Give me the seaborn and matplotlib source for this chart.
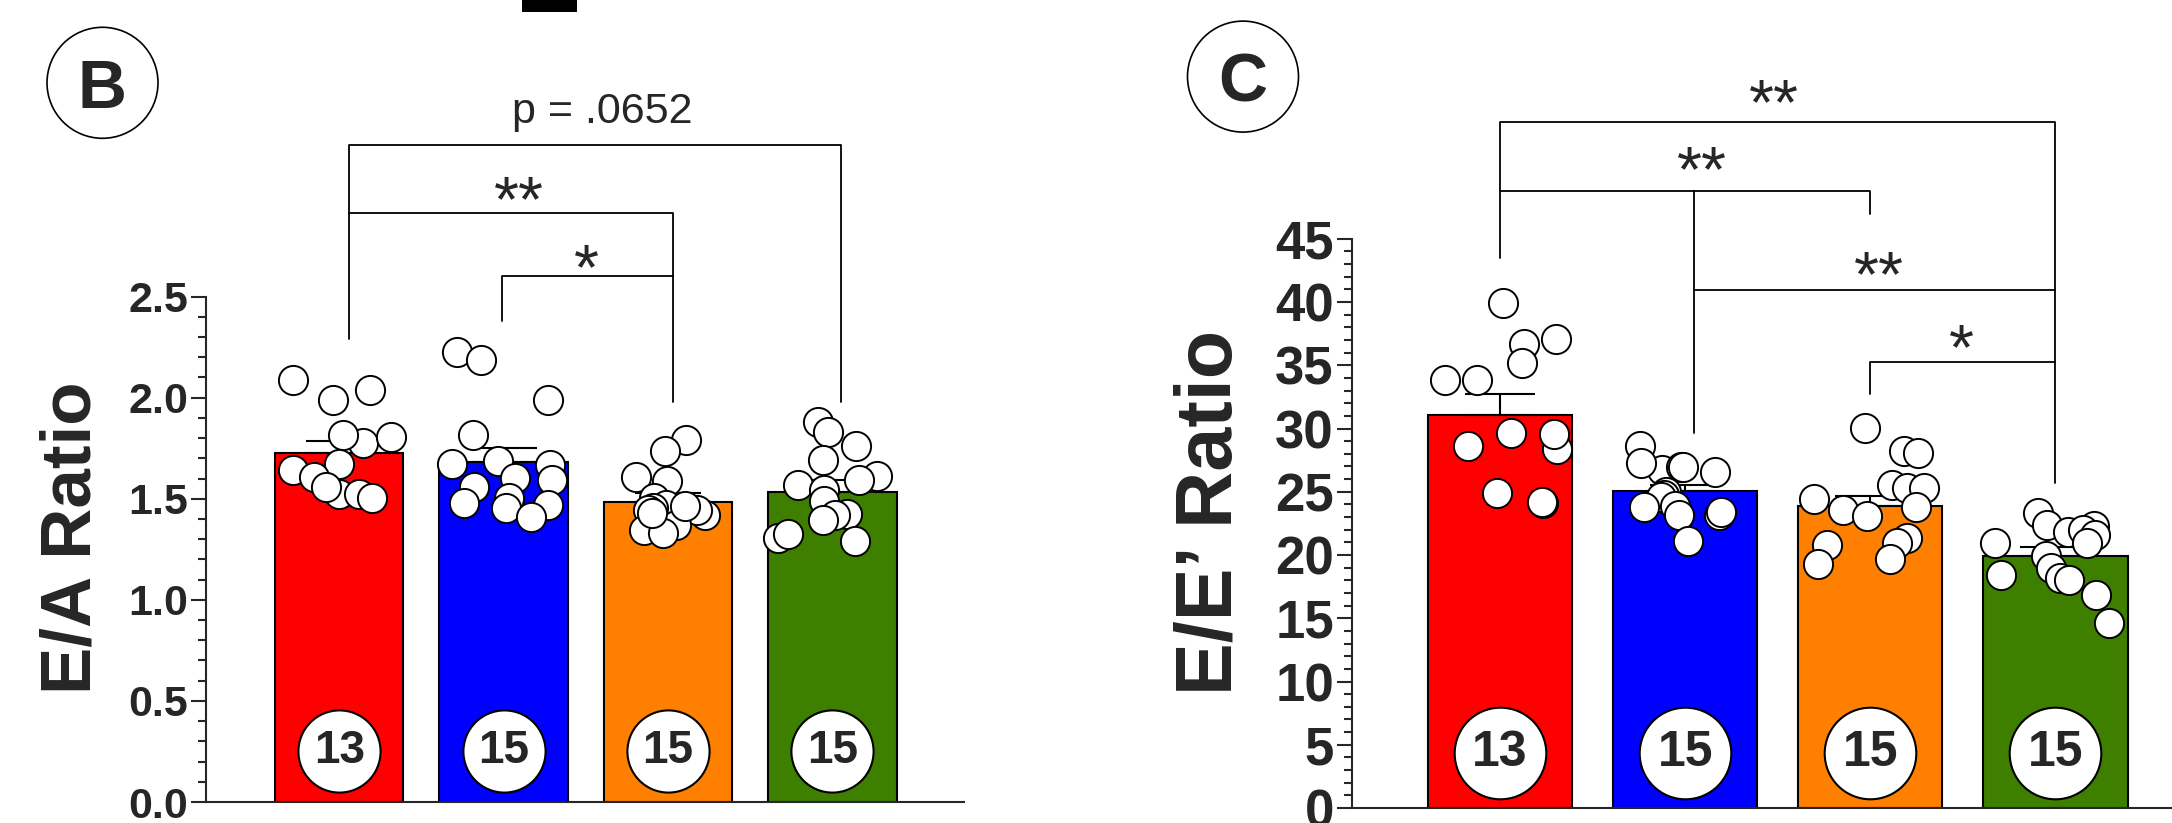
import numpy as np
import pandas as pd
import matplotlib
matplotlib.use("Agg")
import matplotlib.pyplot as plt
import seaborn as sns
from matplotlib import font_manager
from matplotlib.patches import Ellipse, Rectangle

# ---------------- data ----------------
groups = ["G1", "G2", "G3", "G4"]
bar_colors = ["#ff0000", "#0000ff", "#ff8000", "#3f7f00"]
n_labels = ["13", "15", "15", "15"]

# panel B : E/A ratio
ea_red = [2.086, 2.04, 1.99, 1.776, 1.805, 1.813, 1.67, 1.64, 1.607, 1.523, 1.523, 1.503, 1.558]
ea_blue = [2.224, 2.185, 1.99, 1.817, 1.688, 1.665, 1.673, 1.602, 1.594, 1.558, 1.503, 1.47, 1.479, 1.454, 1.409]
ea_orange = [1.792, 1.734, 1.607, 1.586, 1.503, 1.47, 1.454, 1.421, 1.446, 1.446, 1.371, 1.347, 1.333, 1.43, 1.462]
ea_green = [1.878, 1.828, 1.759, 1.693, 1.614, 1.569, 1.594, 1.545, 1.487, 1.424, 1.421, 1.396, 1.308, 1.325, 1.289]
ea_mean = [1.725, 1.683, 1.485, 1.535]
ea_sem = [0.062, 0.070, 0.043, 0.059]

# panel C : E/E' ratio
ee_red = [39.96, 36.67, 37.09, 35.17, 33.85, 33.85, 29.68, 28.58, 28.37, 29.55, 24.1, 24.94, 24.23]
ee_blue = [28.63, 26.73, 26.94, 26.6, 26.94, 27.31, 24.96, 24.75, 24.62, 23.78, 23.91, 23.17, 23.17, 23.43, 21.11]
ee_orange = [30.03, 28.23, 28.1, 25.54, 25.28, 25.28, 24.41, 23.78, 23.57, 23.12, 21.33, 20.93, 20.8, 19.67, 19.27]
ee_green = [23.3, 22.3, 22.38, 21.85, 21.98, 21.59, 20.93, 20.93, 19.93, 18.96, 18.43, 18.16, 18.03, 16.84, 14.65]
ee_mean = [31.1, 25.1, 23.85, 19.9]
ee_sem = [1.66, 0.45, 0.85, 0.75]

sns.set_style("ticks")
names = {f.name for f in font_manager.fontManager.ttflist}
main_font = "Liberation Sans" if "Liberation Sans" in names else "DejaVu Sans"
narrow_font = "Liberation Sans Narrow" if "Liberation Sans Narrow" in names else main_font
plt.rcParams["font.family"] = [main_font, "DejaVu Sans"]

np.random.seed(7)  # jitter of the dots only

fig = plt.figure(figsize=(21.72, 8.23), dpi=100)
W, H = 2172, 823

ax_b = fig.add_axes([206 / W, 21 / H, 758 / W, 505.4 / H])
ax_c = fig.add_axes([1352 / W, 15 / H, 820 / W, 569.2 / H])


def draw_panel(ax, values, means, sems, top, step, minor, fmt, tick_size,
               n_y, n_size, n_font, capsize, xlim):
    long = pd.DataFrame({
        "group": np.repeat(groups, [len(v) for v in values]),
        "value": np.concatenate(values),
    })
    bars = pd.DataFrame({"group": groups, "mean": means})

    sns.barplot(data=bars, x="group", y="mean", hue="group", order=groups,
                palette=bar_colors, saturation=1, width=0.78, edgecolor="black",
                linewidth=1.5, errorbar=None, legend=False, ax=ax, zorder=1)
    ax.errorbar(range(4), means, yerr=[np.zeros(4), sems], fmt="none",
                ecolor="black", elinewidth=1.5, capsize=capsize, capthick=1.5,
                zorder=2)
    sns.stripplot(data=long, x="group", y="value", order=groups, color="white",
                  edgecolor="black", linewidth=1.4, size=21, jitter=0.33,
                  ax=ax, zorder=3)

    ax.scatter(range(4), [n_y] * 4, s=n_size, facecolor="white",
               edgecolor="black", linewidth=1.5, zorder=5, clip_on=False)
    for i, lab in enumerate(n_labels):
        ax.text(i, n_y, lab, ha="center", va="center", fontsize=n_font,
                fontweight="bold", zorder=6)

    ax.set_xlim(*xlim)
    ax.set_ylim(0, top)
    ticks = np.arange(0, top + step / 2, step)
    ax.set_yticks(ticks)
    ax.set_yticklabels([fmt.format(t) for t in ticks], fontsize=tick_size,
                       fontweight="bold")
    ax.set_yticks(np.arange(0, top + minor / 2, minor), minor=True)
    ax.tick_params(axis="y", which="major", length=11, width=1.5, pad=2)
    ax.tick_params(axis="y", which="minor", length=5.5, width=1.5)
    ax.tick_params(axis="x", length=0, labelbottom=False)
    ax.set_xlabel("")
    ax.set_ylabel("")
    sns.despine(ax=ax)
    for s in ["left", "bottom"]:
        ax.spines[s].set_linewidth(1.5)
    ax.patch.set_alpha(0)


draw_panel(ax_b, [ea_red, ea_blue, ea_orange, ea_green], ea_mean, ea_sem,
           2.5, 0.5, 0.1, "{:.1f}", 31, 0.25, 3500, 33, 24, (-0.81, 3.8))
draw_panel(ax_c, [ee_red, ee_blue, ee_orange, ee_green], ee_mean, ee_sem,
           45, 5, 1, "{:.0f}", 38, 4.35, 4350, 36, 25, (-0.8, 3.63))

# ---------------- significance brackets ----------------
line_kw = dict(color="black", lw=1.3, clip_on=False, zorder=4)
star_kw = dict(ha="center", va="center", fontsize=46, clip_on=False)

# panel B
ax_b.plot([0.06, 0.06, 3.05, 3.05], [2.292, 3.25, 3.25, 1.98], **line_kw)
ax_b.plot([0.06, 2.03, 2.03], [2.915, 2.915, 1.98], **line_kw)
ax_b.plot([0.99, 0.99, 2.03], [2.377, 2.603, 2.603], **line_kw)
ax_b.text(1.6, 3.415, "p = .0652", ha="center", va="center", fontsize=31,
          clip_on=False)
ax_b.text(1.096, 2.957, "**", **star_kw)
ax_b.text(1.503, 2.619, "*", **star_kw)

# panel C
ax_c.plot([0, 0, 3, 3], [43.5, 54.2, 54.2, 25.7], **line_kw)
ax_c.plot([0, 2, 2], [48.74, 48.74, 46.97], **line_kw)
ax_c.plot([1.046, 1.046], [48.74, 29.66], **line_kw)
ax_c.plot([1.046, 3], [40.96, 40.96], **line_kw)
ax_c.plot([2, 2, 3], [32.76, 35.27, 35.27], **line_kw)
ax_c.text(1.479, 55.38, "**", **star_kw)
ax_c.text(1.09, 50.13, "**", **star_kw)
ax_c.text(2.049, 41.83, "**", **star_kw)
ax_c.text(2.49, 36.0, "*", **star_kw)

# ---------------- axis titles ----------------
fig.text(73 / W, 1 - 538 / H, "E/A Ratio", rotation=90, ha="center",
         va="center", fontsize=51, fontweight="bold", family=[narrow_font, "DejaVu Sans"])
fig.text(1211 / W, 1 - 512 / H, "E/E\u2019 Ratio", rotation=90, ha="center",
         va="center", fontsize=57, fontweight="bold", family=[narrow_font, "DejaVu Sans"])

# ---------------- panel letters ----------------
for cx, cy, letter in [(102.5, 82.8, "B"), (1243, 76.6, "C")]:
    fig.patches.append(Ellipse((cx / W, 1 - cy / H), 111 / W, 111 / H,
                               transform=fig.transFigure, facecolor="white",
                               edgecolor="black", lw=1.2))
    fig.text(cx / W, 1 - cy / H, letter, ha="center", va="center_baseline",
             fontsize=49, fontweight="bold", family=[narrow_font, "DejaVu Sans"])

# cut-off piece of the panel above
fig.patches.append(Rectangle((521.7 / W, 1 - 12 / H), 55.6 / W, 12 / H,
                             transform=fig.transFigure, facecolor="black",
                             edgecolor="none"))

fig.savefig("out.png", dpi=100)
